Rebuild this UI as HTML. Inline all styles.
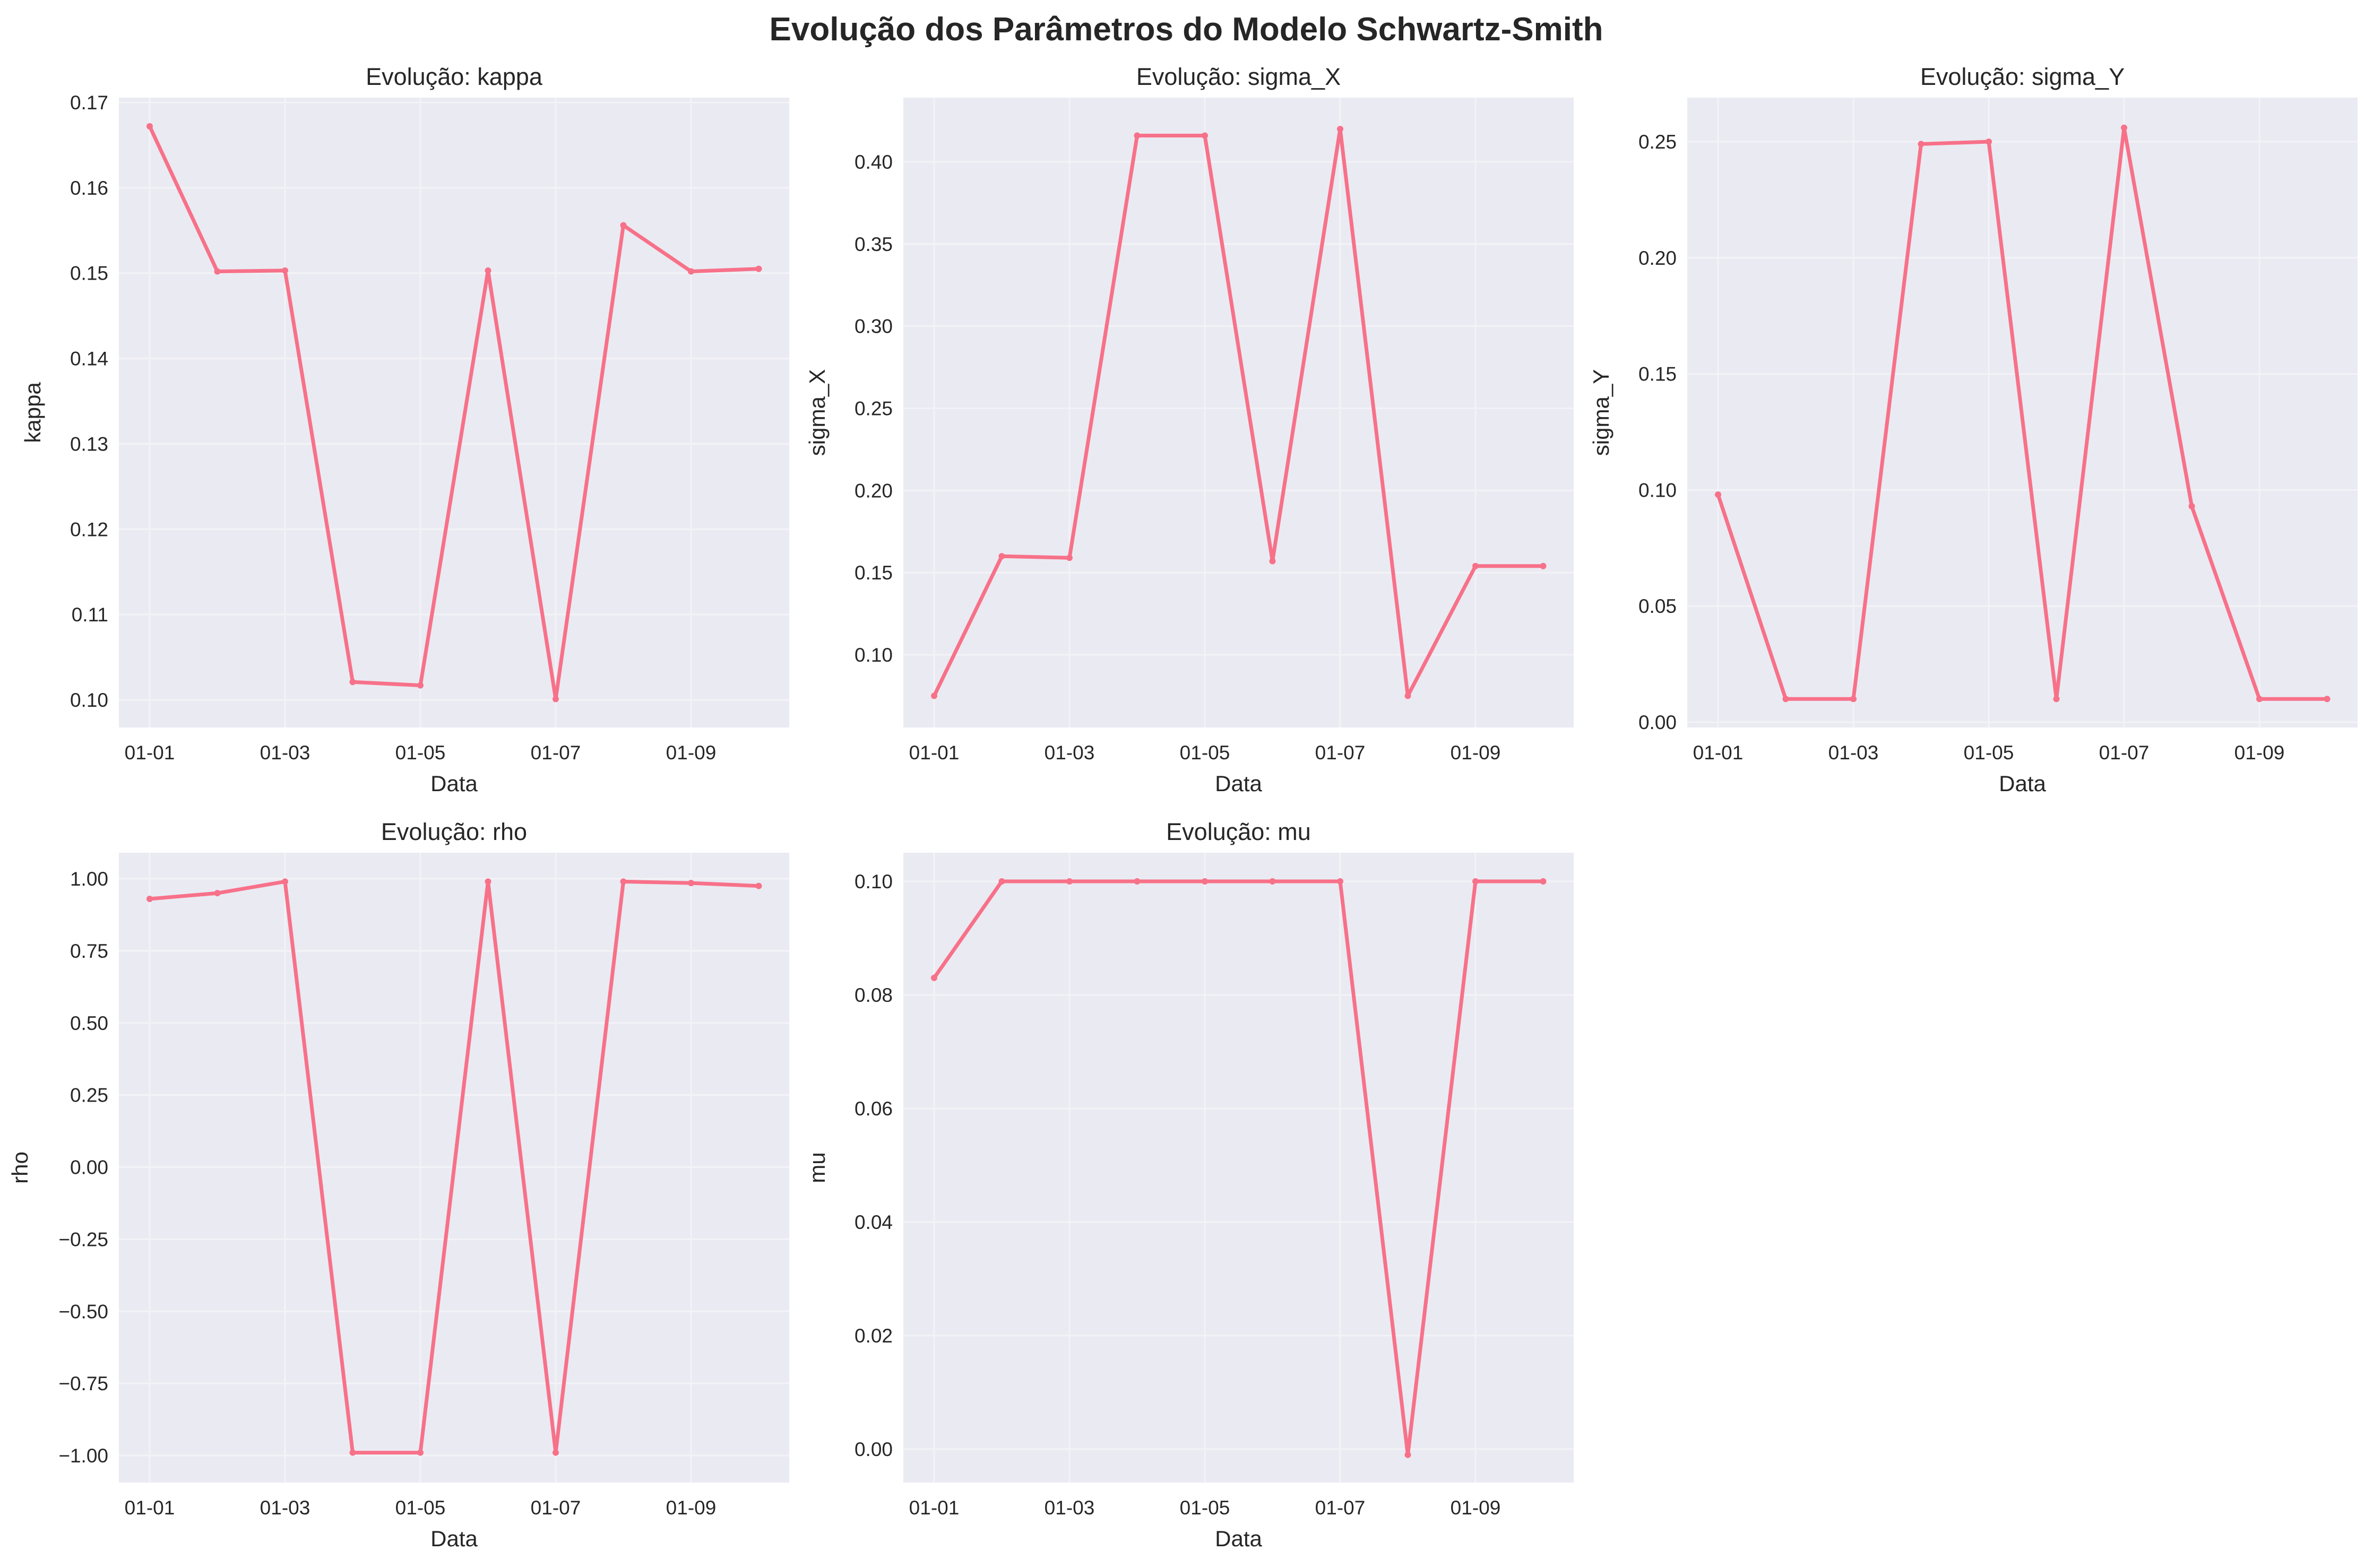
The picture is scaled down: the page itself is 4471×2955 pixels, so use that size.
<!DOCTYPE html>
<html><head><meta charset="utf-8"><style>
html,body{margin:0;padding:0;background:#fff;}
svg{display:block;font-family:"Liberation Sans",sans-serif;}
</style></head><body>
<svg id="fig" width="4471" height="2955" viewBox="0 0 4471 2955" xmlns="http://www.w3.org/2000/svg">
<text x="2235" y="76" text-anchor="middle" font-size="62" font-weight="bold" fill="#262626">Evolução dos Parâmetros do Modelo Schwartz-Smith</text>
</svg>
<script>
const monthLabels = ["01-01","01-03","01-05","01-07","01-09"];
const kappaValues = [0.1672,0.1502,0.1503,0.1021,0.1017,0.1503,0.1001,0.1556,0.1502,0.1505];
const sigmaXValues = [0.075,0.160,0.159,0.416,0.416,0.157,0.420,0.075,0.154,0.154];
const sigmaYValues = [0.098,0.010,0.010,0.249,0.250,0.010,0.256,0.093,0.010,0.010];
const rhoValues = [0.93,0.95,0.99,-0.99,-0.99,0.99,-0.99,0.99,0.985,0.975];
const muValues = [0.083,0.1,0.1,0.1,0.1,0.1,0.1,-0.001,0.1,0.1];
const kappaTicks = [0.10,0.11,0.12,0.13,0.14,0.15,0.16,0.17];
const sigmaXTicks = [0.10,0.15,0.20,0.25,0.30,0.35,0.40];
const sigmaYTicks = [0.00,0.05,0.10,0.15,0.20,0.25];
const rhoTicks = [-1.00,-0.75,-0.50,-0.25,0.00,0.25,0.50,0.75,1.00];
const muTicks = [0.00,0.02,0.04,0.06,0.08,0.10];

const NS="http://www.w3.org/2000/svg";
const svg=document.getElementById('fig');
function mk(tag,attrs,parent){const e=document.createElementNS(NS,tag);for(const k in attrs)e.setAttribute(k,attrs[k]);(parent||svg).appendChild(e);return e;}

const panels=[
 {name:"kappa",vals:kappaValues,ticks:kappaTicks,dec:2,left:224,top:184,t0:0.10,y0:1319,t1:0.17,y1:193},
 {name:"sigma_X",vals:sigmaXValues,ticks:sigmaXTicks,dec:2,left:1702,top:184,t0:0.10,y0:1234,t1:0.40,y1:305},
 {name:"sigma_Y",vals:sigmaYValues,ticks:sigmaYTicks,dec:2,left:3179,top:184,t0:0.00,y0:1361,t1:0.25,y1:267},
 {name:"rho",vals:rhoValues,ticks:rhoTicks,dec:2,left:224,top:1607,t0:-1.00,y0:2743,t1:1.00,y1:1656},
 {name:"mu",vals:muValues,ticks:muTicks,dec:2,left:1702,top:1607,t0:0.00,y0:2731,t1:0.10,y1:1661}
];
const W=1263,H=1187;
panels.forEach(p=>{
  const g=mk('g',{});
  
  
  const yS=v=>p.y0+(v-p.t0)*(p.y1-p.y0)/(p.t1-p.t0);
  const xS=i=>p.left+58+i*127.5;
  const bg=mk('rect',{x:p.left,y:p.top,width:W,height:H,fill:'#eaeaf2'},g);
  
  
  p.ticks.forEach(t=>{
    const y=yS(t);
    mk('line',{x1:p.left,x2:p.left+W,y1:y,y2:y,stroke:'#f3f3f7','stroke-width':3},g);
    const tl=mk('text',{x:p.left-20,y:y+13,'text-anchor':'end','font-size':37,fill:'#262626'},g);
    tl.textContent=t.toFixed(p.dec).replace('-','\u2212');
    
    
  });
  monthLabels.forEach((m,k)=>{
    const x=xS(k*2);
    mk('line',{x1:x,x2:x,y1:p.top,y2:p.top+H,stroke:'#f3f3f7','stroke-width':3},g);
    const tl=mk('text',{x:x,y:p.top+H+60,'text-anchor':'middle','font-size':37,fill:'#262626'},g);
    tl.textContent=m;
    
    
  });
  const pts=p.vals.map((v,i)=>xS(i)+','+yS(v)).join(' ');
  const ln=mk('polyline',{points:pts,fill:'none',stroke:'#f77189','stroke-width':7,'stroke-linejoin':'round'},g);
  
  
  p.vals.forEach((v,i)=>{
    const c=mk('circle',{cx:xS(i),cy:yS(v),r:6,fill:'#f77189'},g);
    
    
  });
  const tt=mk('text',{x:p.left+W/2,y:p.top-24,'text-anchor':'middle','font-size':45,fill:'#262626'},g);
  tt.textContent='Evolução: '+p.name;
  
  
  const xl=mk('text',{x:p.left+W/2,y:p.top+H+120,'text-anchor':'middle','font-size':42,fill:'#262626'},g);
  xl.textContent='Data';
  
  
  const yx=p.left-(p.name==='rho'?172:148), yc=p.top+H/2;
  const yl=mk('text',{x:yx,y:yc,'text-anchor':'middle','font-size':42,fill:'#262626',transform:'rotate(-90 '+yx+' '+yc+')'},g);
  yl.textContent=p.name;
  
  
});
</script>
</body></html>
